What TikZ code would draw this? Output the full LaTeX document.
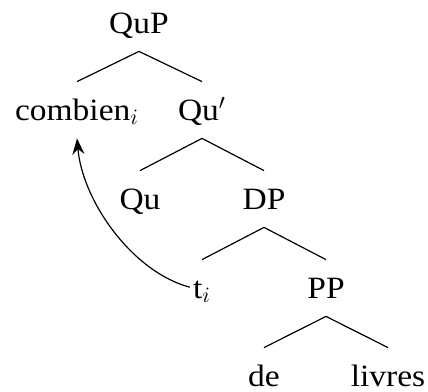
\documentclass[tikz,border=0pt]{standalone}
\usepackage{fontspec}
\setmainfont[FakeStretch=1.08]{Liberation Serif}
\usetikzlibrary{arrows.meta}

\begin{document}
\begin{tikzpicture}[x=0.5pt, y=-0.5pt,
  cat/.style={inner sep=0pt, text height=19pt, text depth=9pt, anchor=base, font=\fontsize{15.5}{18}\selectfont},
  branch/.style={line width=0.6pt},
  move/.style={-{Stealth[length=8pt, width=6pt]}, line width=0.6pt}
]
  \useasboundingbox (0,0) rectangle (428,391);
  \foreach \name/\x/\y/\txt in {qup/139/33/QuP, comb/77/120/combien$_i$, qubar/202/120/Qu$'$,
     qu/140/209/Qu, dp/264/209/DP, trace/202/298/t$_i$, pp/326/298/PP,
     de/264/386/de, livres/388/386/livres}{
     \node[cat] (\name) at (\x,\y) {\txt};}
  \foreach \p/\c in {qup/comb, qup/qubar, qubar/qu, qubar/dp, dp/trace, dp/pp, pp/de, pp/livres}{
     \draw[branch] (\p.south) -- (\c.north);}
  \draw[move, shorten <=1.5pt] (trace.west) to[out=165, in=-85, looseness=0.85] (comb.south);
\end{tikzpicture}
\end{document}
